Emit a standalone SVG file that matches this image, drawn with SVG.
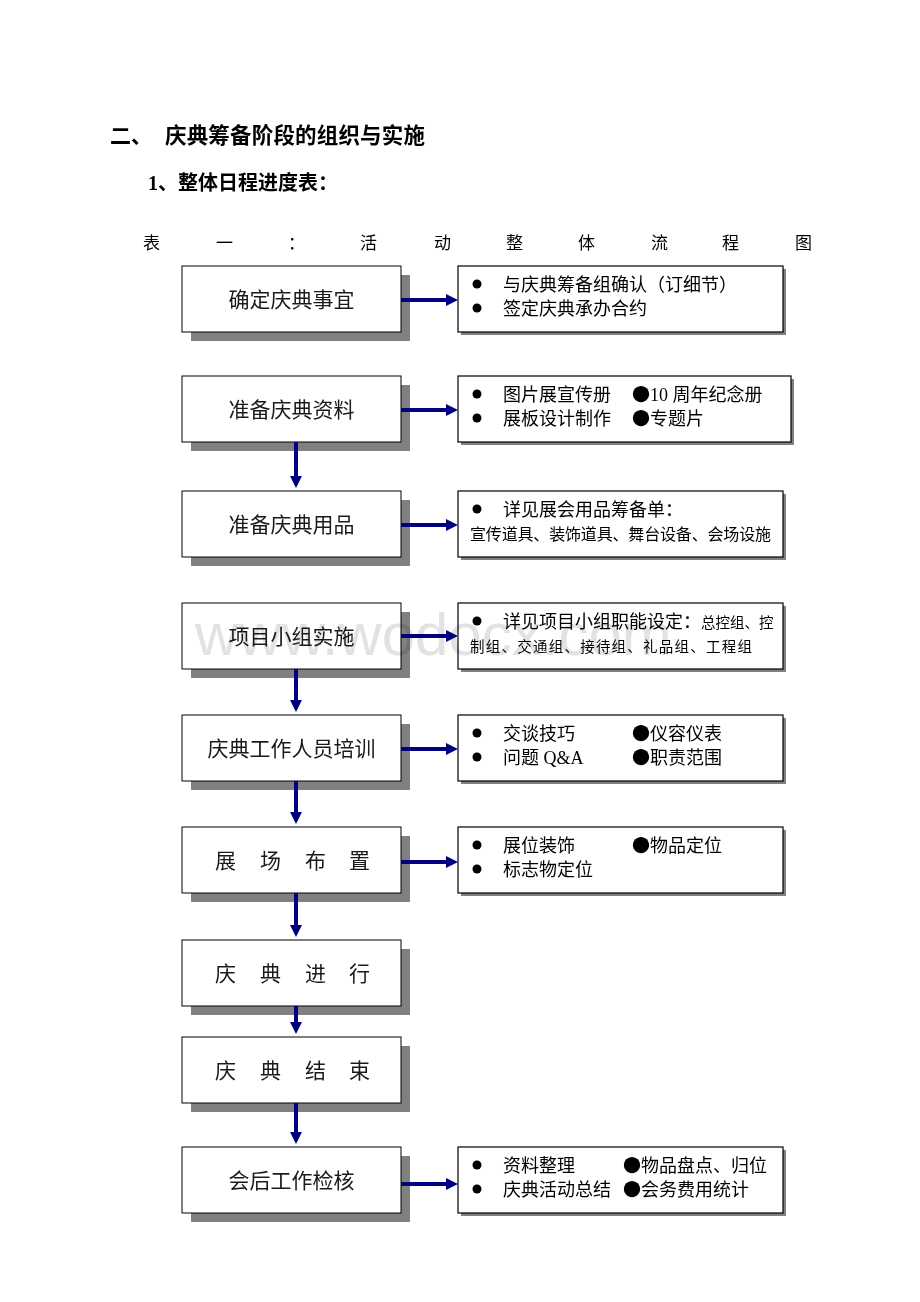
<svg xmlns="http://www.w3.org/2000/svg" width="920" height="1302" viewBox="0 0 920 1302">
<style>
.bg{fill:#fff}
.lb{fill:#fff;stroke:#000;stroke-width:1}
.sh{fill:#808080}
.rb{fill:#fff;stroke:#000;stroke-width:1.2}
.lt{font-family:"Noto Sans CJK SC","Liberation Sans",sans-serif;font-size:21px;fill:#1a1a1a;text-anchor:middle}
.ls{font-family:"Noto Sans CJK SC","Liberation Sans",sans-serif;font-size:21px;fill:#1a1a1a}
.rt{font-family:"Liberation Serif","Noto Sans CJK SC",serif;font-size:18px;fill:#000}
.rs{font-family:"Liberation Serif","Noto Sans CJK SC",serif;font-size:16px;fill:#000}
.rx{font-family:"Noto Sans CJK SC",sans-serif;font-size:14.5px;fill:#000}
.b{font-family:"Noto Sans CJK SC",sans-serif}
.dot{fill:#000}
.h{font-family:"Noto Sans CJK SC",sans-serif;font-weight:bold;fill:#000}
.cap{font-family:"Liberation Serif","Noto Sans CJK SC",serif;font-size:17px;fill:#000}
.conn line{stroke:#000080;stroke-width:4}
.wm{font-family:"Liberation Sans",sans-serif;font-size:60px;fill:#e2e2e2;mix-blend-mode:multiply}
</style>
<defs>
<marker id="ah" markerUnits="userSpaceOnUse" markerWidth="12" markerHeight="12" refX="0" refY="6" orient="auto">
<path d="M0,0 L12,6 L0,12 z" fill="#000080"/>
</marker>
</defs>
<rect class="bg" x="0" y="0" width="920" height="1302"/>

<g id="headings">
<text class="h" x="110" y="143" font-size="21">二、</text>
<text class="h" x="165" y="143" font-size="21.5" textLength="260" lengthAdjust="spacing">庆典筹备阶段的组织与实施</text>
<text class="h" x="148" y="190" font-size="20"><tspan font-family="Liberation Serif" font-weight="bold">1</tspan>、整体日程进度表：</text>
<text class="cap" x="143 216 288 360 434 506 578 651 722 795" y="249">表一：活动整体流程图</text>
</g>

<g id="n1">
<rect class="sh" x="191" y="275" width="219" height="66"/>
<rect class="lb" x="182" y="266" width="219" height="66"/>
<text class="lt" x="291.5" y="307">确定庆典事宜</text>
</g>
<g id="d1">
<rect class="sh" x="461" y="269" width="325" height="66"/>
<rect class="rb" x="458" y="266" width="325" height="66"/>
<circle class="dot" cx="477" cy="284" r="4.5"/>
<circle class="dot" cx="477" cy="308" r="4.5"/>
<text class="rt" x="503" y="291">与庆典筹备组确认（订细节）</text>
<text class="rt" x="503" y="315">签定庆典承办合约</text>
</g>

<g id="n2">
<rect class="sh" x="191" y="385" width="219" height="66"/>
<rect class="lb" x="182" y="376" width="219" height="66"/>
<text class="lt" x="291.5" y="417">准备庆典资料</text>
</g>
<g id="d2">
<rect class="sh" x="461" y="379" width="333" height="66"/>
<rect class="rb" x="458" y="376" width="333" height="66"/>
<circle class="dot" cx="477" cy="394" r="4.5"/>
<circle class="dot" cx="477" cy="418" r="4.5"/>
<text class="rt" x="503" y="401">图片展宣传册</text>
<text class="rt" x="632" y="401"><tspan class="b">●</tspan>10 周年纪念册</text>
<text class="rt" x="503" y="425">展板设计制作</text>
<text class="rt" x="632" y="425"><tspan class="b">●</tspan>专题片</text>
</g>

<g id="n3">
<rect class="sh" x="191" y="500" width="219" height="66"/>
<rect class="lb" x="182" y="491" width="219" height="66"/>
<text class="lt" x="291.5" y="532">准备庆典用品</text>
</g>
<g id="d3">
<rect class="sh" x="461" y="494" width="325" height="66"/>
<rect class="rb" x="458" y="491" width="325" height="66"/>
<circle class="dot" cx="477" cy="509" r="4.5"/>
<text class="rt" x="503" y="516">详见展会用品筹备单：</text>
<text class="rs" x="470" y="540" textLength="301" lengthAdjust="spacing">宣传道具、装饰道具、舞台设备、会场设施</text>
</g>

<g id="n4">
<rect class="sh" x="191" y="612" width="219" height="66"/>
<rect class="lb" x="182" y="603" width="219" height="66"/>
<text class="lt" x="291.5" y="644">项目小组实施</text>
</g>
<g id="d4">
<rect class="sh" x="461" y="606" width="325" height="66"/>
<rect class="rb" x="458" y="603" width="325" height="66"/>
<circle class="dot" cx="477" cy="621" r="4.5"/>
<text class="rt" x="503" y="628">详见项目小组职能设定：<tspan class="rx">总控组、控</tspan></text>
<text class="rx" x="470" y="652" textLength="282" lengthAdjust="spacing">制组、交通组、接待组、礼品组、工程组</text>
</g>

<g id="n5">
<rect class="sh" x="191" y="724" width="219" height="66"/>
<rect class="lb" x="182" y="715" width="219" height="66"/>
<text class="lt" x="291.5" y="756">庆典工作人员培训</text>
</g>
<g id="d5">
<rect class="sh" x="461" y="718" width="325" height="66"/>
<rect class="rb" x="458" y="715" width="325" height="66"/>
<circle class="dot" cx="477" cy="733" r="4.5"/>
<circle class="dot" cx="477" cy="757" r="4.5"/>
<text class="rt" x="503" y="740">交谈技巧</text>
<text class="rt" x="632" y="740"><tspan class="b">●</tspan>仪容仪表</text>
<text class="rt" x="503" y="764">问题 Q&amp;A</text>
<text class="rt" x="632" y="764"><tspan class="b">●</tspan>职责范围</text>
</g>

<g id="n6">
<rect class="sh" x="191" y="836" width="219" height="66"/>
<rect class="lb" x="182" y="827" width="219" height="66"/>
<text class="ls" x="215 238 260 283 305 327 349" y="868">展 场 布 置</text>
</g>
<g id="d6">
<rect class="sh" x="461" y="830" width="325" height="66"/>
<rect class="rb" x="458" y="827" width="325" height="66"/>
<circle class="dot" cx="477" cy="845" r="4.5"/>
<circle class="dot" cx="477" cy="869" r="4.5"/>
<text class="rt" x="503" y="852">展位装饰</text>
<text class="rt" x="632" y="852"><tspan class="b">●</tspan>物品定位</text>
<text class="rt" x="503" y="876">标志物定位</text>
</g>

<g id="n7">
<rect class="sh" x="191" y="949" width="219" height="66"/>
<rect class="lb" x="182" y="940" width="219" height="66"/>
<text class="ls" x="215 238 260 283 305 327 349" y="981">庆 典 进 行</text>
</g>

<g id="n8">
<rect class="sh" x="191" y="1046" width="219" height="66"/>
<rect class="lb" x="182" y="1037" width="219" height="66"/>
<text class="ls" x="215 238 260 283 305 327 349" y="1078">庆 典 结 束</text>
</g>

<g id="n9">
<rect class="sh" x="191" y="1156" width="219" height="66"/>
<rect class="lb" x="182" y="1147" width="219" height="66"/>
<text class="lt" x="291.5" y="1188">会后工作检核</text>
</g>
<g id="d9">
<rect class="sh" x="461" y="1150" width="325" height="66"/>
<rect class="rb" x="458" y="1147" width="325" height="66"/>
<circle class="dot" cx="477" cy="1165" r="4.5"/>
<circle class="dot" cx="477" cy="1189" r="4.5"/>
<text class="rt" x="503" y="1172">资料整理</text>
<text class="rt" x="623" y="1172"><tspan class="b">●</tspan>物品盘点、归位</text>
<text class="rt" x="503" y="1196">庆典活动总结</text>
<text class="rt" x="623" y="1196"><tspan class="b">●</tspan>会务费用统计</text>
</g>

<g id="connectors" class="conn">
<line x1="401" y1="300" x2="446" y2="300" marker-end="url(#ah)"/>
<line x1="401" y1="410" x2="446" y2="410" marker-end="url(#ah)"/>
<line x1="401" y1="525" x2="446" y2="525" marker-end="url(#ah)"/>
<line x1="401" y1="636" x2="446" y2="636" marker-end="url(#ah)"/>
<line x1="401" y1="749" x2="446" y2="749" marker-end="url(#ah)"/>
<line x1="401" y1="862" x2="446" y2="862" marker-end="url(#ah)"/>
<line x1="401" y1="1184" x2="446" y2="1184" marker-end="url(#ah)"/>
<line x1="296" y1="442" x2="296" y2="476" marker-end="url(#ah)"/>
<line x1="296" y1="669" x2="296" y2="700" marker-end="url(#ah)"/>
<line x1="296" y1="781" x2="296" y2="812" marker-end="url(#ah)"/>
<line x1="296" y1="893" x2="296" y2="925" marker-end="url(#ah)"/>
<line x1="296" y1="1006" x2="296" y2="1022" marker-end="url(#ah)"/>
<line x1="296" y1="1103" x2="296" y2="1132" marker-end="url(#ah)"/>
</g>

<g id="watermark">
<text class="wm" x="195" y="655">www.wodocx.com</text>
</g>
</svg>
